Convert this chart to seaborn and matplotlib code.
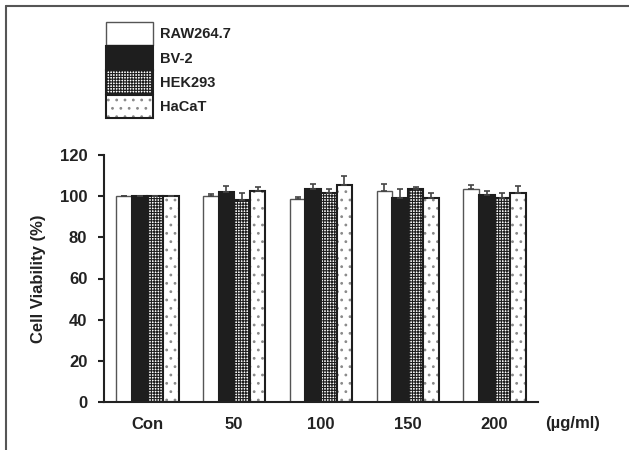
import numpy as np
import pandas as pd
import matplotlib
matplotlib.use("Agg")
import matplotlib.pyplot as plt
import matplotlib.colors as mcolors
import seaborn as sns
from matplotlib.lines import Line2D

# ---- data ----
groups = ["Con", "50", "100", "150", "200"]
cells = ["RAW264.7", "BV-2", "HEK293", "HaCaT"]
raw_vals = [100, 100, 98.5, 102.5, 103.5]
raw_err = [0, 1, 1, 3.5, 2]
bv2_vals = [100, 102, 103.5, 99.3, 100.5]
bv2_err = [0, 3, 2.5, 4, 2]
hek_vals = [100, 98.3, 101.5, 103.4, 99]
hek_err = [0, 3, 2, 1, 2.5]
hacat_vals = [100, 102.3, 105.5, 99, 101.3]
hacat_err = [0, 2, 4.4, 2.5, 3.4]
y_ticks = [0, 20, 40, 60, 80, 100, 120]
unit_label = "(\u00b5g/ml)"
y_label = "Cell Viability (%)"

vals = [raw_vals, bv2_vals, hek_vals, hacat_vals]
errs = [raw_err, bv2_err, hek_err, hacat_err]
df = pd.DataFrame({
    "group": np.repeat([groups], len(cells), axis=0).ravel(),
    "cell": np.repeat(cells, len(groups)),
    "value": np.concatenate(vals),
})

sns.set_style("white")
plt.rcParams["font.family"] = ["Liberation Sans", "DejaVu Sans"]
plt.rcParams["hatch.linewidth"] = 0.8

fig = plt.figure(figsize=(6.29, 4.5), dpi=100)
ax = fig.add_axes([104 / 629, 1 - 402 / 450, (538 - 104) / 629, (402 - 155) / 450])

palette = {"RAW264.7": "white", "BV-2": "#1e1e1e", "HEK293": "white", "HaCaT": "white"}
sns.barplot(data=df, x="group", y="value", hue="cell", order=groups, hue_order=cells,
            palette=palette, width=0.72, gap=0, errorbar=None, ax=ax, legend=False,
            saturation=1)

hatches = [None, None, "++++++", ".."]
hatchcols = [None, None, "#1e1e1e", "#8a8a8a"]
edgecols = ["#555555", "#1e1e1e", "#1e1e1e", "#1e1e1e"]
lws = [1.0, 1.5, 1.5, 1.5]
for cont, h, hc, ec, lw, err in zip(ax.containers, hatches, hatchcols, edgecols, lws, errs):
    xs, tops = [], []
    for p in cont.patches:
        p.set_edgecolor(ec)
        p.set_linewidth(lw)
        if h:
            p.set_hatch(h)
            p._hatch_color = mcolors.to_rgba(hc)
        xs.append(p.get_x() + p.get_width() / 2)
        tops.append(p.get_height())
    e = np.array(err, dtype=float)
    ax.errorbar(xs, tops, yerr=[np.zeros_like(e), e], fmt="none", ecolor="#444444",
                elinewidth=1.2, capsize=2.5, capthick=1.2, zorder=1)

ax.set_xlim(-0.5, len(groups) - 0.5)
ax.set_ylim(0, 120)
ax.set_yticks(y_ticks)
ax.set_yticklabels([str(t) for t in y_ticks], fontsize=12, fontweight="bold", color="#222222")
ax.set_xticks(range(len(groups)))
ax.set_xticklabels(groups, fontsize=12, fontweight="bold", color="#222222")
ax.set_xticks(np.arange(-0.5, len(groups)), minor=True)
ax.tick_params(axis="x", which="major", length=0, pad=11)
ax.tick_params(axis="x", which="minor", length=4, width=1.5, direction="out", color="#222222")
ax.tick_params(axis="y", length=4, width=1.5, direction="out", pad=8, color="#222222", left=True)
ax.set_xlabel("")
ax.set_ylabel(y_label, fontsize=12, fontweight="bold", color="#222222", labelpad=10)
sns.despine(ax=ax)
for s in ["left", "bottom"]:
    ax.spines[s].set_linewidth(1.5)
    ax.spines[s].set_color("#222222")

fig.text(573 / 629, 1 - 423.5 / 450, unit_label, fontsize=12, fontweight="bold",
         color="#222222", ha="center", va="center")

leg = ax.legend(ax.containers, cells, loc="upper left",
                bbox_to_anchor=(106 / 629, 1 - 22 / 450), bbox_transform=fig.transFigure,
                frameon=False, borderpad=0, borderaxespad=0, handlelength=3.2,
                handleheight=2.1, labelspacing=0.05, handletextpad=0.5,
                prop={"family": "Liberation Sans", "weight": "bold", "size": 10.5})
for t in leg.get_texts():
    t.set_color("#222222")
for hnd in leg.legend_handles:
    if hnd.get_hatch() == "..":
        hnd._hatch_color = mcolors.to_rgba("#8a8a8a")

# frame lines at the top and left of the figure
fig.add_artist(Line2D([6 / 629, 1], [1 - 6 / 450, 1 - 6 / 450], transform=fig.transFigure,
                      color="#555555", lw=1.5))
fig.add_artist(Line2D([6 / 629, 6 / 629], [0, 1 - 6 / 450], transform=fig.transFigure,
                      color="#555555", lw=1.5))

fig.savefig("out.png", dpi=100)
